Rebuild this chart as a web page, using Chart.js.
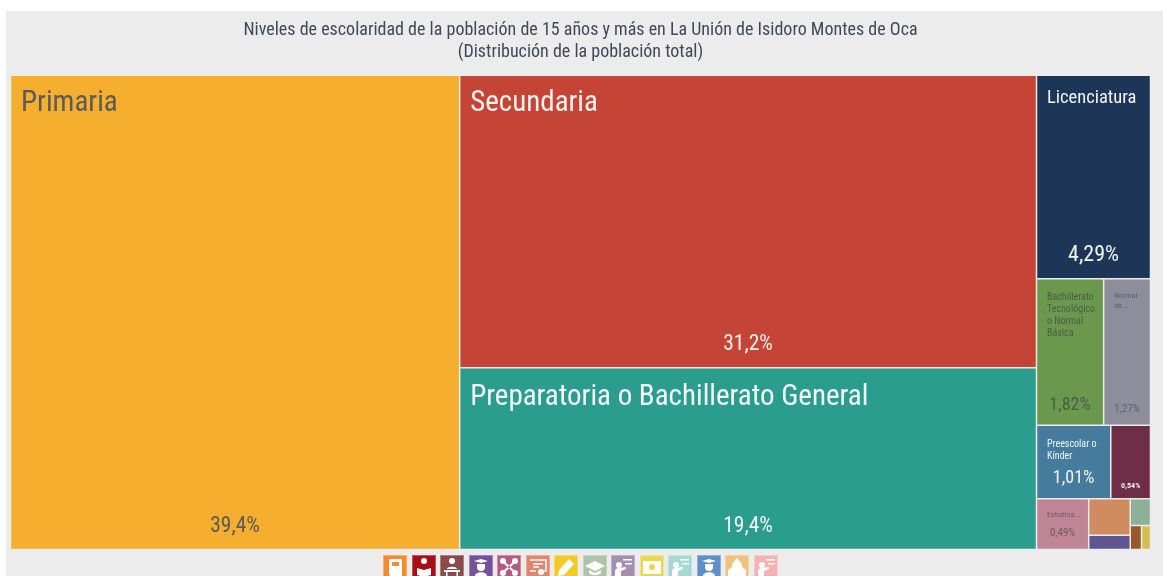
<!DOCTYPE html>
<html lang="es">
<head>
<meta charset="utf-8">
<title>Niveles de escolaridad</title>
<script src="https://cdn.jsdelivr.net/npm/chart.js@4"></script>
<style>
  html, body { margin: 0; padding: 0; background: #fff; overflow: hidden; }
  #panel { position: absolute; left: 6px; right: 0; top: 11px; bottom: 0; background: #ececec; }
  #wrap { position: absolute; left: 0; top: 0; width: 1163px; height: 576px; }
  #iconos { position: absolute; left: 383px; top: 555px; display: flex; gap: 4.5px; }
  #iconos div { width: 24px; height: 24px; box-sizing: border-box; border: 1px solid rgba(255,255,255,.3); }
  #iconos svg { display: block; width: 22px; height: 22px; }
</style>
</head>
<body>
<div id="panel"></div>
<div id="wrap"><canvas id="grafica" width="1163" height="576"></canvas></div>
<div id="iconos"></div>
<script>
const titulo = [
  'Niveles de escolaridad de la población de 15 años y más en La Unión de Isidoro Montes de Oca',
  '(Distribución de la población total)'
];
const etiquetas = [
  ['Primaria'], ['Secundaria'], ['Preparatoria o Bachillerato General'], ['Licenciatura'],
  ['Bachillerato', 'Tecnológico', 'o Normal', 'Básica'], ['Normal', 'de...'],
  ['Preescolar o', 'Kínder'], [], ['Estudios...'], [], [], [], [], []
];
const valores = [39.4, 31.2, 19.4, 4.29, 1.82, 1.27, 1.01, 0.54, 0.49, 0.28, 0.11, 0.10, 0.05, 0.04];
const textoValor = ['39,4%', '31,2%', '19,4%', '4,29%', '1,82%', '1,27%', '1,01%', '0,54%', '0,49%', '', '', '', '', ''];

const colores = ['#f5ae2d', '#c44536', '#2a9d8f', '#1d3557', '#6a994e', '#8d8d9c', '#457b9d',
                 '#6d2e46', '#c08497', '#d08c60', '#5f5591', '#8db09a', '#99582a', '#d4be4f'];
const colorTexto = ['#5a5a5a', '#f4f0ee', '#f4f7f6', '#f4f5f7', '#4f5b49', '#5f5f69', '#f2f5f7',
                    '#f3eef0', '#6e5c66', '', '', '', '', ''];
// tamaños de letra por mosaico: nombre, valor, y separaciones
const tamNombre = [29, 29, 29, 18.5, 10, 8, 10, 0, 8, 0, 0, 0, 0, 0];
const altoLinea = [30, 30, 30, 20, 12, 10, 12.5, 0, 10, 0, 0, 0, 0, 0];
const tamValor = [21.5, 21.5, 21.5, 22, 18, 11, 18, 8, 11, 0, 0, 0, 0, 0];
const pesoValor = ['normal', 'normal', 'normal', 'normal', 'normal', 'normal', 'normal', 'bold', 'normal', '', '', '', '', ''];
const sepNombre = [29, 29, 30, 23, 19, 17, 19, 0, 16, 0, 0, 0, 0, 0];
const sepValor = [23, 23, 23, 23, 20, 16, 20, 13, 16, 0, 0, 0, 0, 0];

// h = lado a lado, v = apilado; los numeros son indices de valores
const arbol = ['h', 0, ['v', 1, 2],
  ['v', 3, ['h', 4, 5], ['h', 6, 7],
    ['h', 8, ['v', 9, 10], ['v', 11, ['h', 12, 13]]]]];

const coloresIconos = ['#f58b2c', '#a50f15', '#8a4b4b', '#75539a', '#b35c7d', '#e0866e', '#f2c926',
                       '#aec4a8', '#a58fb0', '#e6d94f', '#a6d8d4', '#5e8fc9', '#f0c27f', '#f4b3b3'];
const g = {
  libro: '<path d="M6 3h11a1 1 0 0 1 1 1v16H7a2 2 0 0 1-2-2V4a1 1 0 0 1 1-1z"/><path fill="#f58b2c" d="M8 6h7v4H8z"/>',
  lector: '<circle cx="11" cy="5" r="3"/><path d="M4 12l7 2 7-2v7l-7 2-7-2z"/>',
  mesa: '<circle cx="11" cy="5" r="3"/><path d="M6 13c0-3 10-3 10 0zM3 14h16v2H3zM5 16h1.500v5H5zM15.500 16H17v5h-1.500z"/>',
  toga: '<path d="M4 5l7-2 7 2-7 2zM7 8h8v3a4 4 0 0 1-8 0zM5 20c0-5 12-5 12 0z"/>',
  red: '<circle cx="5" cy="5" r="3"/><circle cx="17" cy="5" r="3"/><circle cx="5" cy="17" r="3"/><circle cx="17" cy="17" r="3"/><path d="M5 4l13 12-1 2L4 6zM17 4L4 16l1 2L18 6z"/>',
  cert: '<path fill="none" stroke="#fff" stroke-width="1.500" d="M3 4h16v11h-6M9 15H3zM6 8h10M6 11h6"/><circle cx="14" cy="16" r="3"/>',
  lapiz: '<path d="M14 3l5 5-10 11-6 1 1-6z"/>',
  birrete: '<path d="M11 5l10 5-10 5L1 10z"/><path d="M5 14v3c3 3 9 3 12 0v-3l-6 3z"/>',
  maestro: '<circle cx="7" cy="9" r="3"/><path d="M3 21v-6c0-2 2-3 4-3l7-1v2l-5 2v6zM11 3h9v1.500h-9zM13 7h7v1.500h-7z"/>',
  diploma: '<path d="M2 5h18v13H2z"/><circle cx="11" cy="11" r="3" fill="#e6d94f"/>',
  escuela: '<path d="M11 2l5 6v3l4 3v7H2v-7l4-3V8z"/>'
};
const glifos = [g.libro, g.lector, g.mesa, g.toga, g.red, g.cert, g.lapiz, g.birrete, g.maestro, g.diploma, g.maestro, g.toga, g.escuela, g.maestro];
document.getElementById('iconos').innerHTML = coloresIconos.map((c, i) =>
  `<div style="background:${c}"><svg viewBox="0 0 22 22" fill="#fff">${glifos[i]}</svg></div>`).join('');

const fuente = '"Roboto Condensed", "Roboto", sans-serif';

function sumaNodo(n) {
  return typeof n === 'number' ? valores[n] : n.slice(1).reduce((s, h) => s + sumaNodo(h), 0);
}
// reparte el rectangulo (en unidades de los ejes) segun los valores
function repartir(n, x0, y0, x1, y1, out) {
  if (typeof n === 'number') {
    out[n] = { x0, y0, x1, y1 };
    return out;
  }
  const total = sumaNodo(n);
  let pos = n[0] === 'h' ? x0 : y0;
  n.slice(1).forEach(h => {
    const f = sumaNodo(h) / total;
    if (n[0] === 'h') {
      const w = (x1 - x0) * f;
      repartir(h, pos, y0, pos + w, y1, out);
      pos += w;
    } else {
      const hh = (y1 - y0) * f;
      repartir(h, x0, pos, x1, pos + hh, out);
      pos += hh;
    }
  });
  return out;
}

class MosaicoController extends Chart.DatasetController {
  getMinMax() { return { min: 0, max: 100 }; }
  update(mode) {
    const meta = this.getMeta();
    this.updateElements(meta.data, 0, meta.data.length, mode);
  }
  updateElements(rects, start, count, mode) {
    const meta = this.getMeta();
    const xs = meta.xScale, ys = meta.yScale;
    const cajas = repartir(arbol, 0, 0, 100, 100, []);
    for (let i = start; i < start + count; i++) {
      const c = cajas[i];
      const left = xs.getPixelForValue(c.x0), right = xs.getPixelForValue(c.x1);
      const top = ys.getPixelForValue(c.y0), bottom = ys.getPixelForValue(c.y1);
      this.updateElement(rects[i], i, {
        x: (left + right) / 2, y: top, base: bottom,
        width: right - left, height: bottom - top, horizontal: false,
        borderSkipped: {}, enableBorderRadius: false, inflateAmount: 0,
        options: { backgroundColor: colores[i], borderColor: 'rgba(236,236,236,.7)', borderWidth: 0.75, borderRadius: 0 }
      }, mode);
    }
  }
  draw() {
    this.getMeta().data.forEach(r => r.draw(this.chart.ctx));
  }
}
MosaicoController.id = 'mosaico';
MosaicoController.defaults = { dataElementType: 'bar' };
Chart.register(MosaicoController);

const rotulos = {
  id: 'rotulos',
  afterDatasetsDraw(chart) {
    const ctx = chart.ctx;
    ctx.save();
    chart.getDatasetMeta(0).data.forEach((r, i) => {
      ctx.fillStyle = colorTexto[i];
      const left = r.x - r.width / 2;
      ctx.textAlign = 'left';
      ctx.textBaseline = 'middle';
      ctx.font = `${tamNombre[i]}px ${fuente}`;
      etiquetas[i].forEach((t, k) => ctx.fillText(t, left + 10.5, r.y + sepNombre[i] + k * altoLinea[i]));
      if (textoValor[i]) {
        ctx.textAlign = 'center';
        ctx.font = `${pesoValor[i]} ${tamValor[i]}px ${fuente}`;
        ctx.fillText(textoValor[i], r.x, r.base - sepValor[i]);
      }
    });
    ctx.restore();
  }
};

new Chart(document.getElementById('grafica'), {
  type: 'mosaico',
  data: {
    labels: etiquetas.map(e => e.join(' ')),
    datasets: [{ data: valores }]
  },
  options: {
    responsive: false,
    animation: false,
    layout: { padding: { left: 10.5, right: 12.5, top: 20, bottom: 26.5 } },
    scales: {
      x: { type: 'linear', min: 0, max: 100, display: false },
      y: { type: 'linear', min: 0, max: 100, display: false, reverse: true }
    },
    plugins: {
      legend: { display: false },
      tooltip: { enabled: false },
      title: {
        display: true,
        text: titulo,
        color: '#3d4a5c',
        font: { family: fuente, size: 18, weight: 'normal', lineHeight: 1.2 },
        padding: { top: 0, bottom: 12 }
      }
    }
  },
  plugins: [rotulos]
});
</script>
</body>
</html>
